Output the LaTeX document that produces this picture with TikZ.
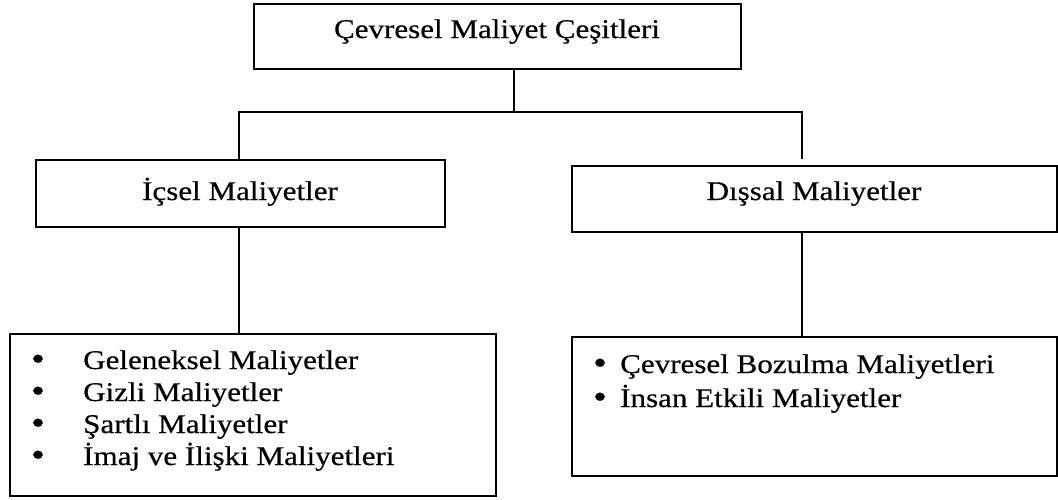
\documentclass[tikz,border=0pt]{standalone}
\usepackage{fontspec}
\setmainfont{Liberation Serif}[FakeStretch=1.15, FakeBold=0.5]
\usetikzlibrary{positioning}

\begin{document}
\begin{tikzpicture}[
  x=1pt, y=-1pt,
  box/.style={draw, line width=2pt, inner sep=0pt, anchor=north west},
  link/.style={line width=1.5pt},
  lbl/.style={font=\fontsize{27}{32}\selectfont, inner sep=0pt},
  dot/.style={font=\fontsize{34}{32}\selectfont, inner sep=0pt}
]
\useasboundingbox[fill=white] (0,0) rectangle (1058,499);

% Boxes
\node[box, minimum width=487, minimum height=65] (top) at (253,3) {};
\node[box, minimum width=409, minimum height=67] (ic) at (35,159) {};
\node[box, minimum width=485, minimum height=66] (dis) at (571,165) {};
\node[box, minimum width=486, minimum height=162] (iclist) at (9,333) {};
\node[box, minimum width=485, minimum height=139] (dislist) at (571,336) {};

% Titles
\node[lbl, anchor=base] (toptxt) at (497,38) {Çevresel Maliyet Çeşitleri};
\node[lbl, anchor=base] (ictxt) at (240,200) {İçsel Maliyetler};
\node[lbl, anchor=base] (distxt) at (814,200) {Dışsal Maliyetler};

% Connectors
\coordinate (fork) at (514,112);
\coordinate (hl) at (239,112);
\coordinate (hr) at (802,112);
\draw[link] (top.south -| fork) -- (fork);
\draw[link, shorten >=6pt] (ic.north -| hl) -- (hl) -- (hr) -- (dis.north -| hr);
\draw[link] (ic.south -| hl) -- (iclist.north -| hl);
\draw[link] (dis.south -| hr) -- (dislist.north -| hr);

% Lists
\foreach \t [count=\i] in {Geleneksel Maliyetler, Gizli Maliyetler, Şartlı Maliyetler, İmaj ve İlişki Maliyetleri} {
  \node[dot, anchor=base] (icb\i) at (38, 338+32*\i) {•};
  \node[lbl, anchor=base west] (ici\i) at (83, 337+32*\i) {\t};
}
\foreach \t [count=\i] in {Çevresel Bozulma Maliyetleri, İnsan Etkili Maliyetler} {
  \node[dot, anchor=base] (disb\i) at (600, 340+34*\i) {•};
  \node[lbl, anchor=base west] (disi\i) at (620, 339+34*\i) {\t};
}

\end{tikzpicture}
\end{document}
